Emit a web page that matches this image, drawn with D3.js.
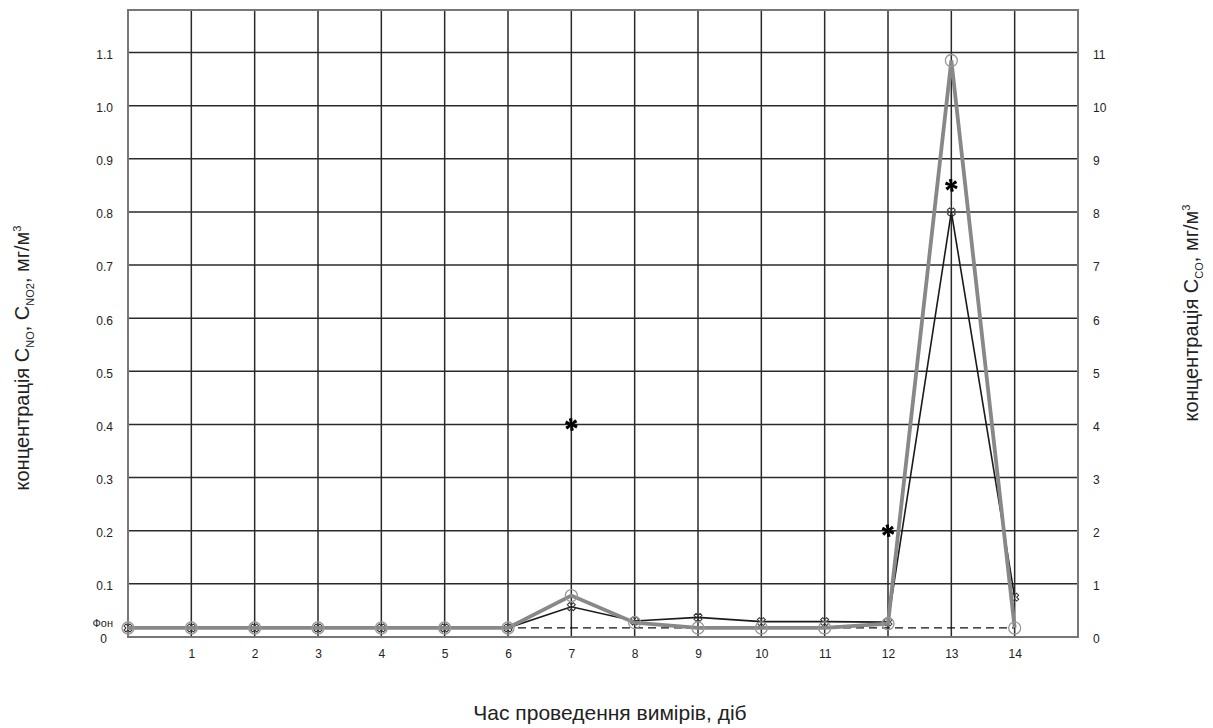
<!DOCTYPE html>
<html>
<head>
<meta charset="utf-8">
<script src="https://cdn.jsdelivr.net/npm/d3@7"></script>
<style>
  body { margin: 0; background: #fff; }
  text { font-family: "Liberation Sans", Arial, sans-serif; fill: #222; }
</style>
</head>
<body>
<script>
// measurement days
var days = [0, 1, 2, 3, 4, 5, 6, 7, 8, 9, 10, 11, 12, 13, 14];
// background level (Фон)
var fon = 0.017;
// grey line with circles
var grayVals = [0.017, 0.017, 0.017, 0.017, 0.017, 0.017, 0.017, 0.078, 0.027, 0.017, 0.017, 0.017, 0.025, 1.085, 0.017];
// black line with crosses
var blackVals = [0.017, 0.017, 0.017, 0.017, 0.017, 0.017, 0.017, 0.057, 0.030, 0.037, 0.029, 0.029, 0.028, 0.80, 0.075];
// CO points, right axis
var coDays = [7, 12, 13];
var coVals = [4.0, 2.0, 8.5];
// tick labels
var xTicks = [1, 2, 3, 4, 5, 6, 7, 8, 9, 10, 11, 12, 13, 14];
var leftTicks = [0.1, 0.2, 0.3, 0.4, 0.5, 0.6, 0.7, 0.8, 0.9, 1.0, 1.1];
var rightTicks = [0, 1, 2, 3, 4, 5, 6, 7, 8, 9, 10, 11];

var margin = {top: 10, left: 128},
    width = 950,
    height = 627;

var svg = d3.select("body").append("svg")
    .attr("width", 1213)
    .attr("height", 728);

var g = svg.append("g")
    .attr("transform", "translate(" + margin.left + "," + margin.top + ")");

var x = d3.scaleLinear().domain([0, 15]).range([0, width]);
var y = d3.scaleLinear().domain([0, 1.18]).range([height, 0]);
var y2 = d3.scaleLinear().domain([0, 11.8]).range([height, 0]);

// grid
g.selectAll(".vgrid").data(xTicks).enter().append("line")
    .attr("x1", function(d) { return x(d); })
    .attr("x2", function(d) { return x(d); })
    .attr("y1", 0).attr("y2", height)
    .attr("stroke", "#2a2a2a").attr("stroke-width", 1.5);

g.selectAll(".hgrid").data(leftTicks).enter().append("line")
    .attr("x1", 0).attr("x2", width)
    .attr("y1", function(d) { return y(d); })
    .attr("y2", function(d) { return y(d); })
    .attr("stroke", "#2a2a2a").attr("stroke-width", 1.5);

g.append("rect")
    .attr("width", width).attr("height", height)
    .attr("fill", "none").attr("stroke", "#777").attr("stroke-width", 2);

// axes (labels only)
var xAxis = g.append("g")
    .attr("transform", "translate(0," + height + ")")
    .call(d3.axisBottom(x).tickValues(xTicks).tickSize(0).tickPadding(12).tickFormat(d3.format("d")));
var yAxis = g.append("g")
    .attr("transform", "translate(0,2)")
    .call(d3.axisLeft(y).tickValues(leftTicks).tickSize(0).tickPadding(15).tickFormat(d3.format(".1f")));
var yAxis2 = g.append("g")
    .attr("transform", "translate(" + width + ",2)")
    .call(d3.axisRight(y2).tickValues(rightTicks).tickSize(0).tickPadding(15).tickFormat(d3.format("d")));
[xAxis, yAxis, yAxis2].forEach(function(a) {
    a.select(".domain").remove();
    a.selectAll("text").attr("font-size", 12).attr("fill", "#222")
        .attr("font-family", "Liberation Sans, Arial, sans-serif");
});

g.append("text").attr("x", -21).attr("y", y(0) + 6)
    .attr("text-anchor", "end").attr("font-size", 12).text("0");
g.append("text").attr("x", -15).attr("y", y(fon) - 1)
    .attr("text-anchor", "end").attr("font-size", 11).text("Фон");

// background dashed line
g.append("line")
    .attr("x1", x(0)).attr("x2", x(14))
    .attr("y1", y(fon)).attr("y2", y(fon))
    .attr("stroke", "#111").attr("stroke-width", 1.3)
    .attr("stroke-dasharray", "8,5");

var line = d3.line()
    .x(function(d, i) { return x(days[i]); })
    .y(function(d) { return y(d); });

// black series
g.append("path").datum(blackVals)
    .attr("d", line).attr("fill", "none")
    .attr("stroke", "#1a1a1a").attr("stroke-width", 1.6);
g.selectAll(".bx").data(blackVals).enter().append("path")
    .attr("transform", function(d, i) { return "translate(" + x(days[i]) + "," + y(d) + ") rotate(45)"; })
    .attr("d", d3.symbol().type(d3.symbolCross).size(40))
    .attr("fill", "none").attr("stroke", "#333").attr("stroke-width", 1);

// grey series
g.append("path").datum(grayVals)
    .attr("d", line).attr("fill", "none")
    .attr("stroke", "#888").attr("stroke-width", 3.8);
g.selectAll(".gc").data(grayVals).enter().append("circle")
    .attr("cx", function(d, i) { return x(days[i]); })
    .attr("cy", function(d) { return y(d); })
    .attr("r", 6).attr("fill", "none")
    .attr("stroke", "#999").attr("stroke-width", 1.3);

// CO asterisks
var star = d3.symbol().type(d3.symbolAsterisk).size(110);
g.selectAll(".co").data(coVals).enter().append("g")
    .attr("transform", function(d, i) { return "translate(" + x(coDays[i]) + "," + y2(d) + ")"; })
    .each(function() {
        var s = d3.select(this);
        s.append("path").attr("d", star).attr("stroke", "#000").attr("stroke-width", 1.9).attr("fill", "none");
        s.append("path").attr("d", star).attr("transform", "rotate(45)")
            .attr("stroke", "#000").attr("stroke-width", 1.9).attr("fill", "none");
    });

// axis titles
var lt = svg.append("text")
    .attr("transform", "translate(29,358) rotate(-90)")
    .attr("text-anchor", "middle").attr("font-size", 20);
lt.append("tspan").text("концентрація C");
lt.append("tspan").attr("font-size", 11).attr("dy", 5).text("NO");
lt.append("tspan").attr("dy", -5).text(", C");
lt.append("tspan").attr("font-size", 11).attr("dy", 5).text("NO2");
lt.append("tspan").attr("dy", -5).text(", мг/м");
lt.append("tspan").attr("font-size", 11).attr("dy", -8).text("3");

var rt = svg.append("text")
    .attr("transform", "translate(1198,313) rotate(-90)")
    .attr("text-anchor", "middle").attr("font-size", 20);
rt.append("tspan").text("концентрація C");
rt.append("tspan").attr("font-size", 11).attr("dy", 5).text("CO");
rt.append("tspan").attr("dy", -5).text(", мг/м");
rt.append("tspan").attr("font-size", 11).attr("dy", -8).text("3");

svg.append("text")
    .attr("x", 610).attr("y", 720)
    .attr("text-anchor", "middle").attr("font-size", 21)
    .text("Час проведення вимірів, діб");
</script>
</body>
</html>
